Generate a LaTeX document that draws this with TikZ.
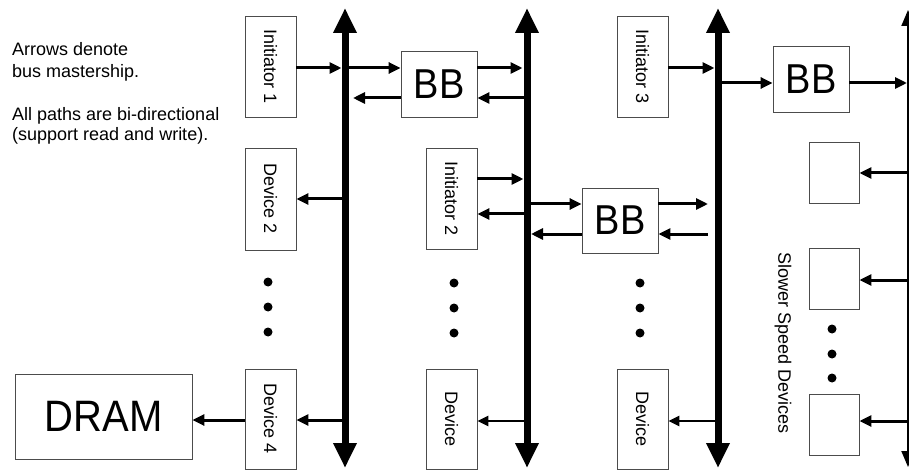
\documentclass[tikz,border=0pt]{standalone}
\usepackage{fontspec}
\setmainfont{Liberation Sans}
\usepackage{graphicx}
\usetikzlibrary{arrows.meta}
\begin{document}
\begin{tikzpicture}[x=1pt,y=-1pt,
  box/.style={draw=black!70, line width=0.9pt, fill=white, inner sep=0pt, font=\fontsize{18}{21}\selectfont},
  bigtext/.style={font=\fontsize{40}{40}\selectfont},
  bbtext/.style={font=\fontsize{38}{38}\selectfont},
  conn/.style={line width=3pt, -{Triangle[length=12pt,width=11pt]}},
  thinconn/.style={line width=2.5pt, -{Triangle[length=11pt,width=10pt]}},
  bus/.style={line width=7pt, {Triangle[length=25pt,width=22pt]}-{Triangle[length=25pt,width=22pt]}},
  thinbus/.style={line width=2pt, {Triangle[length=16pt,width=13pt]}-{Triangle[length=16pt,width=13pt]}},
  note/.style={anchor=base west, inner sep=0pt, font=\fontsize{18}{21}\selectfont},
  dotr/.style={radius=4.5pt}
]
\useasboundingbox (0,0) rectangle (909,470);
\clip (0,0) rectangle (909,470);

% buses
\coordinate (b1t) at (345,8);  \coordinate (b1b) at (345,468);
\coordinate (b2t) at (527,8);  \coordinate (b2b) at (527,468);
\coordinate (b3t) at (718,8);  \coordinate (b3b) at (718,468);
\coordinate (b4t) at (908,10); \coordinate (b4b) at (908,467);
\draw[bus] (b1t) -- (b1b);
\draw[bus] (b2t) -- (b2b);
\draw[bus] (b3t) -- (b3b);
\draw[thinbus] (b4t) -- (b4b);

% notes
\node[note] (t1) at (12,56) {Arrows denote};
\node[note] (t2) at (12,77.5) {bus mastership.};
\node[note] (t3) at (12,120.5) {All paths are bi-directional};
\node[note] (t4) at (12,141) {(support read and write).};

% boxes column 1
\node[box, minimum width=51pt, minimum height=101pt] (i1) at (270.5,66.5) {\rotatebox{-90}{Initiator 1}};
\node[box, minimum width=51pt, minimum height=102pt] (d2) at (270.5,199) {\rotatebox{-90}{Device 2}};
\node[box, minimum width=51pt, minimum height=100pt] (d4) at (270.5,419) {\rotatebox{-90}{Device 4}};
\node[box, bigtext, minimum width=177pt, minimum height=85pt] (dram) at (103.5,416.5) {\scalebox{1}[1.1]{DRAM}};

% column 2
\node[box, minimum width=51pt, minimum height=101pt] (i2) at (451.5,198.5) {\rotatebox{-90}{Initiator 2}};
\node[box, minimum width=51pt, minimum height=100pt] (dv2) at (451.5,419) {\rotatebox{-90}{Device}};
\node[box, bbtext, minimum width=76pt, minimum height=66pt] (bb1) at (439,84) {\scalebox{1}[1.1]{BB}};

% column 3
\node[box, minimum width=51pt, minimum height=101pt] (i3) at (642.5,66.5) {\rotatebox{-90}{Initiator 3}};
\node[box, minimum width=51pt, minimum height=100pt] (dv3) at (642.5,419) {\rotatebox{-90}{Device}};
\node[box, bbtext, minimum width=76pt, minimum height=65pt] (bb2) at (620,220.5) {\scalebox{1}[1.1]{BB}};

% column 4
\node[box, bbtext, minimum width=76pt, minimum height=66pt] (bb3) at (811,79) {\scalebox{1}[1.1]{BB}};
\node[box, minimum width=50pt, minimum height=61pt] (s1) at (834,172.5) {};
\node[box, minimum width=50pt, minimum height=61pt] (s2) at (834,278.5) {};
\node[box, minimum width=50pt, minimum height=61pt] (s3) at (834,424.5) {};
\node[inner sep=0pt, font=\fontsize{18}{21}\selectfont] (slow) at (783,343) {\rotatebox{-90}{Slower Speed Devices}};

% dots
\fill (268,282) circle[dotr]; \fill (268,307) circle[dotr]; \fill (268,332) circle[dotr];
\fill (454,283) circle[dotr]; \fill (454,308) circle[dotr]; \fill (454,333) circle[dotr];
\fill (640,283) circle[dotr]; \fill (640,308) circle[dotr]; \fill (640,333) circle[dotr];
\fill (832,329) circle[dotr]; \fill (832,354) circle[dotr]; \fill (832,378) circle[dotr];

% connectors column 1
\draw[conn, shorten >=3.5pt] ([yshift=-1.5pt]i1.east) -- ([yshift=-1.5pt]i1.east -| b1t);
\draw[conn] ([yshift=16pt]bb1.west -| b1t) -- ([yshift=16pt]bb1.west);
\draw[conn, shorten >=4.5pt] ([yshift=16pt]bb1.east) -- ([yshift=16pt]bb1.east -| b2t);
\draw[conn] ([yshift=-14pt]bb1.east -| b2t) -- ([yshift=-14pt]bb1.east);
\draw[conn, shorten >=8pt] ([yshift=-14pt]bb1.west) -- ([yshift=-14pt]bb1.west -| b1t);
\draw[conn] (d2.east -| b1t) -- (d2.east);
\draw[conn] ([yshift=-1pt]d4.east -| b1t) -- ([yshift=-1pt]d4.east);
\draw[conn] ([yshift=-1pt]d4.west) -- ([yshift=-1pt]d4.west -| dram.east);

% column 2
\draw[conn, shorten >=3.5pt] ([yshift=19.5pt]i2.east) -- ([yshift=19.5pt]i2.east -| b2t);
\draw[conn] ([yshift=-15.5pt]i2.east -| b2t) -- ([yshift=-15.5pt]i2.east);
\draw[conn] ([yshift=16.5pt]bb2.west -| b2t) -- ([yshift=16.5pt]bb2.west);
\draw[conn, shorten >=4pt] ([yshift=-13.5pt]bb2.west) -- ([yshift=-13.5pt]bb2.west -| b2t);
\coordinate (e1) at (708,204);
\coordinate (e2) at (708,234);
\draw[conn] ([yshift=16.5pt]bb2.east) -- (e1);
\draw[conn] (e2) -- ([yshift=-13.5pt]bb2.east);
\draw[thinconn] ([yshift=-2pt]dv2.east -| b2t) -- ([yshift=-2pt]dv2.east);

% column 3
\draw[conn, shorten >=3.5pt] ([yshift=-1.5pt]i3.east) -- ([yshift=-1.5pt]i3.east -| b3t);
\draw[conn] ([yshift=-4pt]bb3.west -| b3t) -- ([yshift=-4pt]bb3.west);
\draw[conn, shorten >=1pt] ([yshift=-4pt]bb3.east) -- ([yshift=-4pt]bb3.east -| b4t);
\draw[thinconn] ([yshift=-2pt]dv3.east -| b3t) -- ([yshift=-2pt]dv3.east);

% slow devices
\draw[conn] ([yshift=-0.5pt]s1.east -| b4t) -- ([yshift=-0.5pt]s1.east);
\draw[conn] ([yshift=-1.5pt]s2.east -| b4t) -- ([yshift=-1.5pt]s2.east);
\draw[conn] ([yshift=3.5pt]s3.east -| b4t) -- ([yshift=3.5pt]s3.east);
\end{tikzpicture}
\end{document}
